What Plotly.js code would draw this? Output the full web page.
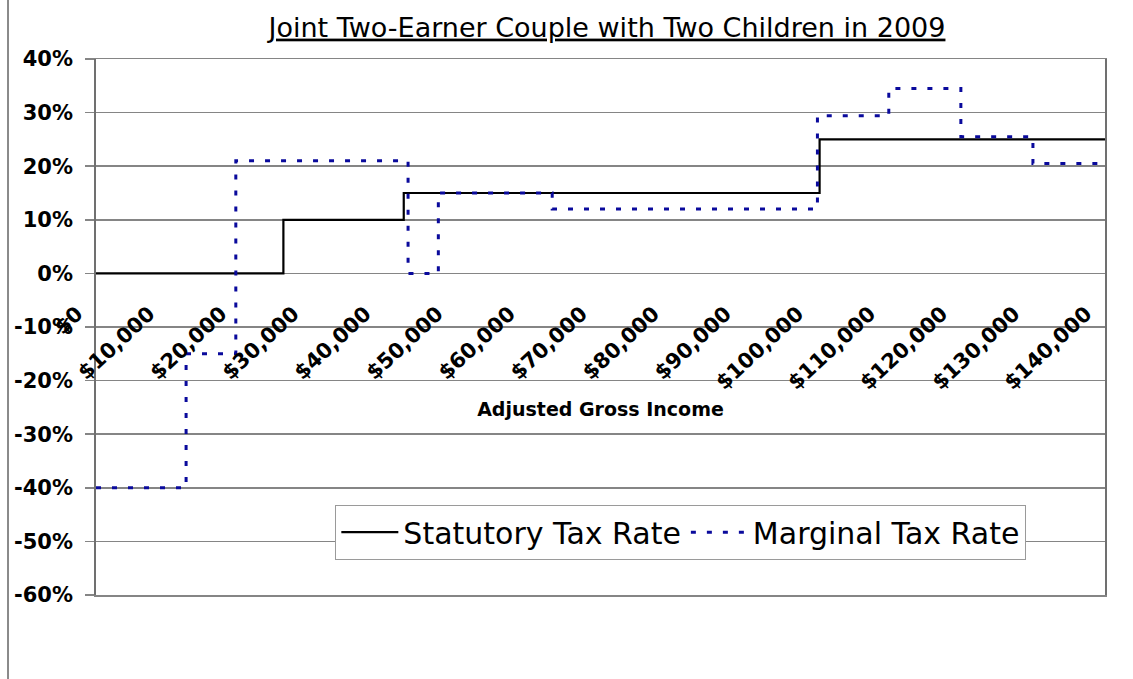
<!DOCTYPE html>
<html>
<head>
<meta charset="utf-8">
<script src="https://cdn.plot.ly/plotly-3.0.1.min.js"></script>
<style>
  html, body { margin: 0; padding: 0; background: #ffffff; }
  #chart { width: 1133px; height: 679px; }
</style>
</head>
<body>
<div id="chart"></div>
<script>
// Adjusted gross income (dollars) at which each rate step begins; the last point closes the final step.
const statutoryIncome = [0, 26000, 42700, 100400, 140000];
const statutoryRate   = [0, 0.10, 0.15, 0.25, 0.25];

const marginalIncome = [0, 12500, 19400, 43300, 47500, 63300, 100100, 110000, 120000, 130000, 140000];
const marginalRate   = [-0.40, -0.15, 0.21, 0.00, 0.15, 0.12, 0.294, 0.345, 0.255, 0.205, 0.205];

// Axis ticks
const incomeTicks = [0, 10000, 20000, 30000, 40000, 50000, 60000, 70000, 80000, 90000, 100000, 110000, 120000, 130000, 140000];
const incomeTickText = ['$0', '$10,000', '$20,000', '$30,000', '$40,000', '$50,000', '$60,000', '$70,000',
                        '$80,000', '$90,000', '$100,000', '$110,000', '$120,000', '$130,000', '$140,000'];
const rateTicks = [-0.6, -0.5, -0.4, -0.3, -0.2, -0.1, 0, 0.1, 0.2, 0.3, 0.4];
const rateTickText = ['-60%', '-50%', '-40%', '-30%', '-20%', '-10%', '0%', '10%', '20%', '30%', '40%'];

const FONT = 'DejaVu Sans, Liberation Sans, Arial, sans-serif';
const incomeRange = [0, 140000];
const rateRange = [-0.6, 0.4];

const traces = [
  {
    name: 'Statutory Tax Rate',
    x: statutoryIncome,
    y: statutoryRate,
    xaxis: 'x',
    yaxis: 'y',
    type: 'scatter',
    mode: 'lines',
    line: { shape: 'hv', color: '#000000', width: 2.2 },
    hoverinfo: 'skip'
  },
  {
    // drawn on the income axis that carries the tick labels (same range as the base axis)
    name: 'Marginal Tax Rate',
    x: marginalIncome,
    y: marginalRate,
    xaxis: 'x2',
    yaxis: 'y',
    type: 'scatter',
    mode: 'lines',
    line: { shape: 'hv', color: '#0a0a9c', width: 3, dash: '5px,11px' },
    hoverinfo: 'skip'
  }
];

const layout = {
  width: 1133,
  height: 679,
  margin: { l: 96, r: 28, t: 59, b: 84 },
  paper_bgcolor: '#ffffff',
  plot_bgcolor: '#ffffff',
  font: { family: FONT, color: '#000000' },
  showlegend: true,
  title: {
    text: 'Joint Two-Earner Couple with Two Children in 2009',
    font: { family: FONT, size: 27, color: '#000000', lineposition: 'under' },
    xref: 'paper',
    x: 0.5064,
    xanchor: 'center',
    yref: 'container',
    y: 0.960,
    yanchor: 'middle'
  },
  xaxis: {
    range: incomeRange,
    showgrid: false,
    zeroline: false,
    showline: true,
    mirror: true,
    linecolor: '#858585',
    linewidth: 1.5,
    ticks: '',
    showticklabels: false,
    fixedrange: true
  },
  xaxis2: {
    overlaying: 'x',
    matches: 'x',
    anchor: 'free',
    position: 0.6,
    range: incomeRange,
    tickmode: 'array',
    tickvals: incomeTicks,
    ticktext: incomeTickText,
    tickangle: -43,
    tickfont: { family: FONT, size: 21, weight: 'bold', color: '#000000' },
    ticklabelstandoff: 23,
    ticklabelshift: -19,
    showgrid: false,
    zeroline: false,
    showline: false,
    ticks: '',
    fixedrange: true,
    title: {
      text: 'Adjusted Gross Income',
      font: { family: FONT, size: 19, weight: 'bold', color: '#000000' },
      standoff: 9
    }
  },
  yaxis: {
    range: rateRange,
    tickmode: 'array',
    tickvals: rateTicks,
    ticktext: rateTickText,
    tickfont: { family: FONT, size: 21, weight: 'bold', color: '#000000' },
    ticks: 'outside',
    ticklen: 9,
    tickwidth: 1.5,
    tickcolor: '#858585',
    ticklabelstandoff: 8,
    showgrid: true,
    gridcolor: '#858585',
    gridwidth: 1.5,
    zeroline: false,
    showline: true,
    mirror: true,
    linecolor: '#707070',
    linewidth: 1.8,
    fixedrange: true
  },
  legend: {
    orientation: 'h',
    x: 0.237,
    xanchor: 'left',
    y: 0.168,
    yanchor: 'top',
    bgcolor: '#ffffff',
    bordercolor: '#9a9a9a',
    borderwidth: 1.2,
    font: { family: FONT, size: 30, color: '#000000' },
    itemwidth: 57
  },
  shapes: [
    {
      // left edge of the chart frame
      type: 'line',
      xref: 'paper', yref: 'paper',
      x0: -0.0872, x1: -0.0872,
      y0: -0.16, y1: 1.12,
      line: { color: '#8a8a8a', width: 2 }
    }
  ]
};

Plotly.newPlot('chart', traces, layout, { displayModeBar: false, staticPlot: true });
</script>
</body>
</html>
